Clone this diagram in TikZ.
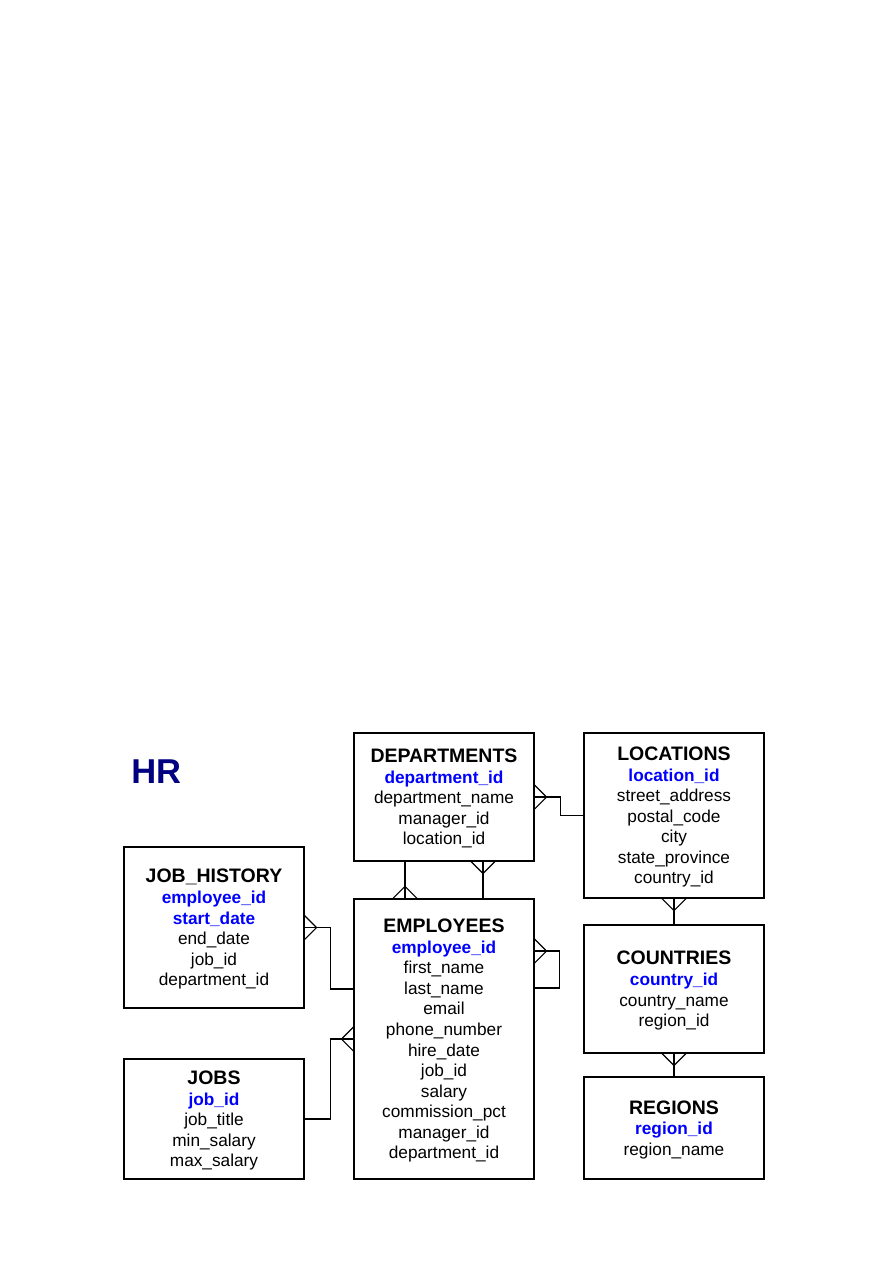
\documentclass[tikz,border=0pt]{standalone}
\usepackage{fontspec}
\setmainfont{Liberation Sans}
\usetikzlibrary{calc}

\definecolor{hrnavy}{RGB}{0,0,128}
\definecolor{keyblue}{RGB}{0,0,255}

\newcommand{\tname}[1]{{\fontsize{13}{13.7}\bfseries #1}}
\newcommand{\pkey}[1]{{\bfseries\color{keyblue}#1}}

\tikzset{
  tbl/.style={draw, line width=0.8pt, minimum width=120pt, align=center,
    inner sep=0pt, text depth=-1.5pt, font=\fontsize{11.5}{13.7}\selectfont},
  rel/.style={line width=0.8pt},
}

\begin{document}
\begin{tikzpicture}[x=0.6667pt, y=-0.6667pt]
    \useasboundingbox (0,0) rectangle (893,1263);

    % Schema name
    \node[font=\fontsize{23}{23}\selectfont\bfseries, text=hrnavy, anchor=base west, inner sep=0pt] (hr) at (131,783) {HR};

    % Tables
    \node[tbl, minimum height=85.3pt] (dept) at (444,797)
        {\tname{DEPARTMENTS}\\ \pkey{department\_id}\\ department\_name\\ manager\_id\\ location\_id};
    \node[tbl, minimum height=110pt] (loc) at (674,815.5)
        {\tname{LOCATIONS}\\ \pkey{location\_id}\\ street\_address\\ postal\_code\\ city\\ state\_province\\ country\_id};
    \node[tbl, minimum height=107.3pt] (jh) at (214,927.5)
        {\tname{JOB\_HISTORY}\\ \pkey{employee\_id}\\ \pkey{start\_date}\\ end\_date\\ job\_id\\ department\_id};
    \node[tbl, minimum height=186.7pt] (emp) at (444,1039)
        {\tname{EMPLOYEES}\\ \pkey{employee\_id}\\ first\_name\\ last\_name\\ email\\ phone\_number\\ hire\_date\\ job\_id\\ salary\\ commission\_pct\\ manager\_id\\ department\_id};
    \node[tbl, minimum height=85.3pt] (ctry) at (674,989)
        {\tname{COUNTRIES}\\ \pkey{country\_id}\\ country\_name\\ region\_id};
    \node[tbl, minimum height=80pt] (jobs) at (214,1119)
        {\tname{JOBS}\\ \pkey{job\_id}\\ job\_title\\ min\_salary\\ max\_salary};
    \node[tbl, minimum height=68pt] (reg) at (674,1128)
        {\tname{REGIONS}\\ \pkey{region\_id}\\ region\_name};

    % Departments - Locations
    \draw[rel] (dept.east) -- ++(26,0) |- (loc.west);
    \draw[rel] ($(dept.east)+(0,-12)$) -- ++(12,12) -- ++(-12,12);

    % Employees - Departments
    \draw[rel] ($(dept.south)+(-39,0)$) -- ($(emp.north)+(-39,0)$);
    \draw[rel] ($(emp.north)+(-51,0)$) -- ++(12,-12) -- ++(12,12);
    \draw[rel] ($(dept.south)+(39,0)$) -- ($(emp.north)+(39,0)$);
    \draw[rel] ($(dept.south)+(27,0)$) -- ++(12,12) -- ++(12,-12);

    % Job history - Employees
    \draw[rel] (jh.east) -- ++(26,0) |- ($(emp.west)+(0,-50)$);
    \draw[rel] ($(jh.east)+(0,-12)$) -- ++(12,12) -- ++(-12,12);

    % Jobs - Employees
    \draw[rel] (jobs.east) -- ++(26,0) |- (emp.west);
    \draw[rel] ($(emp.west)+(0,-12)$) -- ++(-12,12) -- ++(12,12);

    % Employees - manager
    \draw[rel] ($(emp.east)+(0,-88)$) -- ++(25,0) |- ($(emp.east)+(0,-51)$);
    \draw[rel] ($(emp.east)+(0,-100)$) -- ++(12,12) -- ++(-12,12);

    % Locations - Countries - Regions
    \draw[rel] (loc.south) -- (ctry.north);
    \draw[rel] ($(loc.south)+(-12,0)$) -- ++(12,12) -- ++(12,-12);
    \draw[rel] (ctry.south) -- (reg.north);
    \draw[rel] ($(ctry.south)+(-12,0)$) -- ++(12,12) -- ++(12,-12);
\end{tikzpicture}
\end{document}
